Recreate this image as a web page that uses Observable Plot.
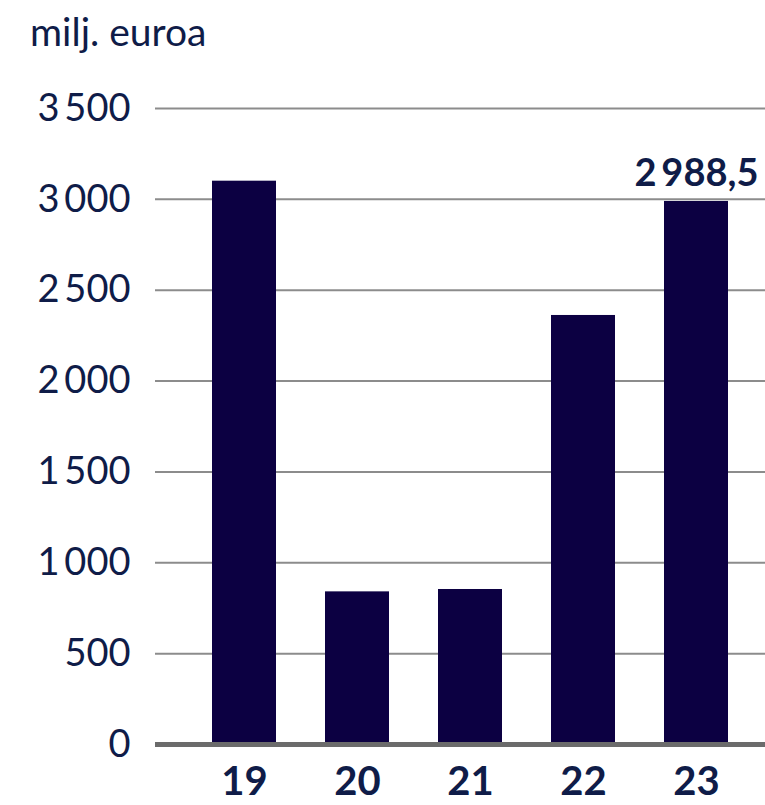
<!DOCTYPE html>
<html>
<head>
<meta charset="utf-8">
<script src="https://cdn.jsdelivr.net/npm/d3@7"></script>
<script src="https://cdn.jsdelivr.net/npm/@observablehq/plot@0.6"></script>
<style>
  html, body { margin: 0; padding: 0; background: #fff; }
  #wrap { position: relative; width: 765px; height: 805px; }
  #title { position: absolute; left: 30px; top: 12px; font-family: Lato, sans-serif; font-size: 39px; line-height: 1; color: #0f1c48; }
  #chart { position: absolute; left: 0; top: 0; }
</style>
</head>
<body>
<div id="wrap">
  <div id="chart"></div>
  <div id="title">milj. euroa</div>
</div>
<script>
const years = ["19", "20", "21", "22", "23"];
const values = [3100, 840, 853, 2361, 2988.5];
const yTicks = [0, 500, 1000, 1500, 2000, 2500, 3000, 3500];
const labelYear = "23";
const labelText = "2\u2009988,5";

const data = years.map((y, i) => ({year: y, value: values[i]}));
const fmt = d3.formatLocale({decimal: ",", thousands: "\u2009", grouping: [3]}).format(",");
const ink = "#0f1c48";
const font = "Lato, sans-serif";

const chart = Plot.plot({
  width: 765,
  height: 805,
  marginLeft: 155,
  marginRight: 0,
  marginTop: 108,
  marginBottom: 61,
  style: {fontFamily: font, color: ink, background: "transparent"},
  x: {domain: years, range: [211, 728], paddingInner: 0.435, paddingOuter: 0, label: null},
  y: {domain: [0, 3500], label: null},
  marks: [
    Plot.ruleY(yTicks.filter(d => d > 0), {stroke: "#8c8c8c", strokeWidth: 2}),
    Plot.barY(data, {x: "year", y: "value", fill: "#0c0042"}),
    Plot.ruleY([0], {stroke: "#6b6b6b", strokeWidth: 5}),
    Plot.axisY({ticks: yTicks, tickSize: 0, tickPadding: 25, tickFormat: fmt, fontSize: 38, fill: ink, fontFamily: font, label: null}),
    Plot.axisX({tickSize: 0, tickPadding: 22, fontSize: 40, fontWeight: "bold", fill: ink, fontFamily: font, label: null}),
    Plot.text(data.filter(d => d.year === labelYear), {x: "year", y: "value", text: () => labelText, dy: -28, fontSize: 38, fontWeight: "bold", fill: ink, fontFamily: font})
  ]
});
document.getElementById("chart").appendChild(chart);
</script>
</body>
</html>
